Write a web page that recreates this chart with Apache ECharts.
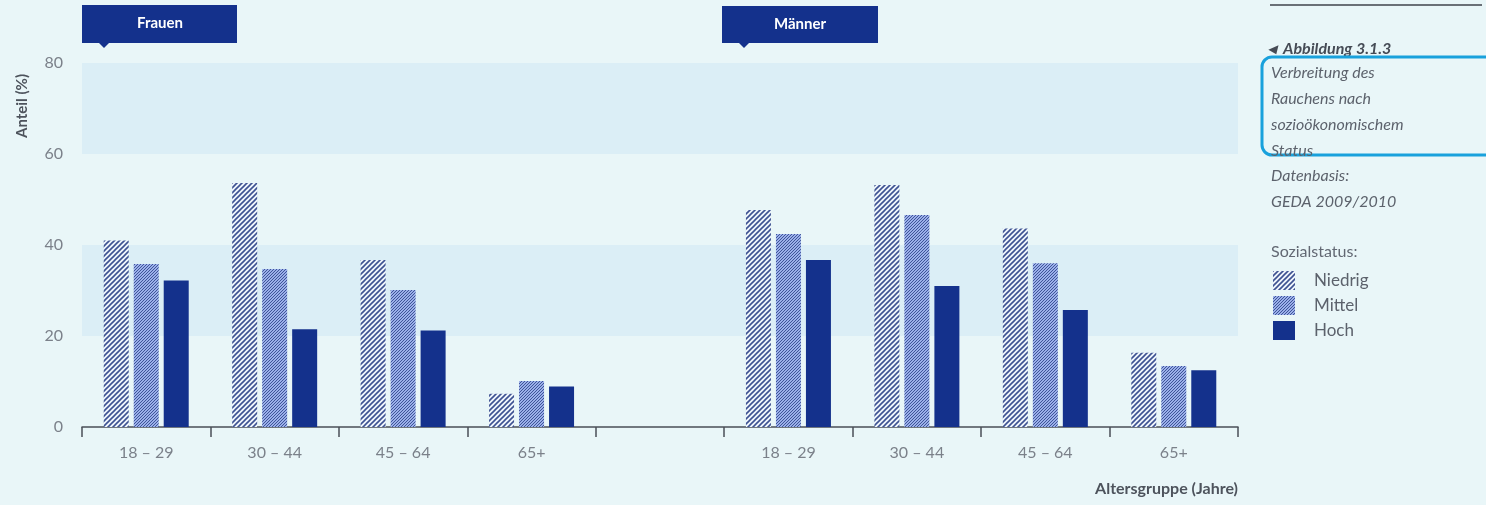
<!DOCTYPE html>
<html><head><meta charset="utf-8">
<script src="https://cdn.jsdelivr.net/npm/echarts@6/dist/echarts.min.js"></script>
<style>html,body{margin:0;padding:0;background:#e9f6f8;}#c{width:1486px;height:505px;}</style>
</head><body><div id="c"></div>
<script>
// ---- data ----
var ageGroups = ['18 – 29', '30 – 44', '45 – 64', '65+'];
var seriesNames = ['Niedrig', 'Mittel', 'Hoch'];
var frauenNiedrig = [41.0, 53.6, 36.7, 7.3];
var frauenMittel  = [35.8, 34.7, 30.1, 10.1];
var frauenHoch    = [32.2, 21.5, 21.2, 8.9];
var maennerNiedrig = [47.7, 53.2, 43.6, 16.3];
var maennerMittel  = [42.4, 46.6, 36.0, 13.4];
var maennerHoch    = [36.7, 31.0, 25.7, 12.5];
var yTicks = [0, 20, 40, 60, 80];

// categories: Frauen groups, a spacer, Männer groups
var catKeys = [], catLabels = [];
ageGroups.forEach(function (a, i) { catKeys.push('F' + i); catLabels.push(a); });
catKeys.push('gap'); catLabels.push('');
ageGroups.forEach(function (a, i) { catKeys.push('M' + i); catLabels.push(a); });
function join(f, m) { return f.concat(['-'], m); }
var values = [
  join(frauenNiedrig, maennerNiedrig),
  join(frauenMittel, maennerMittel),
  join(frauenHoch, maennerHoch)
];

// ---- patterns ----
function stripe(size, bg, fg, lw) {
  var c = document.createElement('canvas');
  c.width = size; c.height = size;
  var g = c.getContext('2d');
  g.fillStyle = bg; g.fillRect(0, 0, size, size);
  g.strokeStyle = fg; g.lineWidth = lw;
  g.beginPath();
  g.moveTo(0, size); g.lineTo(size, 0);
  g.moveTo(-size, size); g.lineTo(size, -size);
  g.moveTo(0, 2 * size); g.lineTo(2 * size, 0);
  g.stroke();
  return c;
}
var navy = '#14318c';
var fills = [
  { image: stripe(5, '#f0f6fc', '#3d5292', 1.6), repeat: 'repeat' },
  { image: stripe(3, '#9bb0ea', '#34498f', 0.9), repeat: 'repeat' },
  navy
];

var chart = echarts.init(document.getElementById('c'));
var txt = '#4d535c', light = '#7b818a';
var font = 'Lato, "Open Sans", sans-serif';

var series = seriesNames.map(function (n, i) {
  return {
    name: n, type: 'bar', data: values[i],
    barWidth: 25, barGap: '20%',
    itemStyle: { color: fills[i] },
    emphasis: { disabled: true }
  };
});

var bodyLines = ['Verbreitung des', 'Rauchens nach', 'sozioökonomischem', 'Status', 'Datenbasis:', 'GEDA 2009/2010'];
var graphics = [
  // panel labels
  { type: 'rect', shape: { x: 82, y: 5, width: 155, height: 38 }, style: { fill: navy } },
  { type: 'polygon', shape: { points: [[99, 43], [109, 43], [104, 48]] }, style: { fill: navy } },
  { type: 'text', x: 160, y: 23, style: { text: 'Frauen', fill: '#ffffff', font: 'bold 15px ' + font, align: 'center', verticalAlign: 'middle' } },
  { type: 'rect', shape: { x: 722, y: 6, width: 156, height: 37 }, style: { fill: navy } },
  { type: 'polygon', shape: { points: [[739, 43], [749, 43], [744, 48]] }, style: { fill: navy } },
  { type: 'text', x: 800, y: 24, style: { text: 'Männer', fill: '#ffffff', font: 'bold 15px ' + font, align: 'center', verticalAlign: 'middle' } },
  // axis names
  { type: 'text', x: 22, y: 106, rotation: Math.PI / 2, style: { text: 'Anteil (%)', fill: txt, font: 'bold 15px ' + font, align: 'center', verticalAlign: 'middle' } },
  { type: 'text', x: 1238, y: 489, style: { text: 'Altersgruppe (Jahre)', fill: txt, font: 'bold 16px ' + font, align: 'right', verticalAlign: 'middle' } },
  // right side panel
  { type: 'line', shape: { x1: 1270, y1: 5, x2: 1482, y2: 5 }, style: { stroke: '#6a7077', lineWidth: 2 } },
  { type: 'text', x: 1268, y: 49, style: { text: '◂  Abbildung 3.1.3', fill: '#454b55', font: 'italic bold 16px ' + font, verticalAlign: 'middle' } },
  { type: 'rect', z: 10, shape: { x: 1262, y: 57, width: 260, height: 98, r: 10 }, style: { fill: '#e9f6f8', stroke: '#19a1dc', lineWidth: 3 } },
  { type: 'text', x: 1271, y: 252, style: { text: 'Sozialstatus:', fill: '#626873', font: '16px ' + font, verticalAlign: 'middle' } }
];
bodyLines.forEach(function (l, i) {
  graphics.push({ type: 'text', z: 11, x: 1271, y: 73 + i * 25.8, style: { text: l, fill: '#5c626c', font: 'italic 16px ' + font, verticalAlign: 'middle' } });
});

chart.setOption({
  backgroundColor: '#e9f6f8',
  animation: false,
  textStyle: { fontFamily: font },
  grid: { left: 82, right: 248, top: 63, bottom: 78 },
  legend: {
    orient: 'vertical', left: 1268, top: 266,
    itemWidth: 22, itemHeight: 19, itemGap: 6,
    icon: 'rect',
    data: seriesNames,
    textStyle: { color: '#5c626c', fontSize: 17, fontFamily: font, padding: [0, 0, 0, 14] },
    selectedMode: false
  },
  xAxis: {
    type: 'category', data: catKeys,
    axisLine: { lineStyle: { color: '#4a4f57', width: 1.5 } },
    axisTick: { show: true, length: 10, lineStyle: { color: '#4a4f57', width: 1.5 } },
    axisLabel: { color: light, fontSize: 16, margin: 18, formatter: function (v, i) { return catLabels[i]; } }
  },
  yAxis: {
    type: 'value', min: yTicks[0], max: yTicks[yTicks.length - 1], interval: 20,
    axisLine: { show: false }, axisTick: { show: false },
    splitLine: { show: false },
    splitArea: { show: true, areaStyle: { color: ['rgba(0,0,0,0)', '#dbeef6'] } },
    axisLabel: { color: light, fontSize: 16, margin: 19 }
  },
  series: series,
  graphic: graphics
});
</script></body></html>
